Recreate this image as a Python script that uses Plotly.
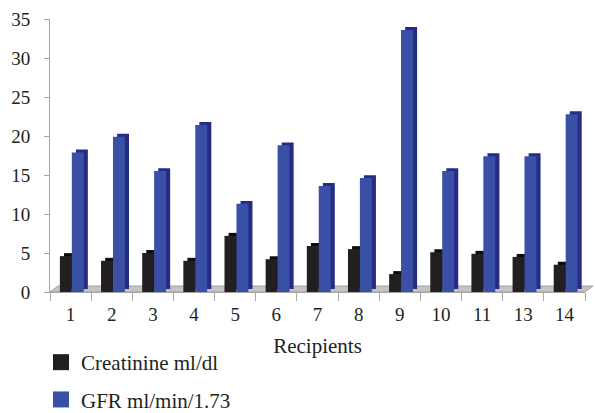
import plotly.graph_objects as go

# Recipient ids (no recipient 12) and measured values
recipients = ["1", "2", "3", "4", "5", "6", "7", "8", "9", "10", "11", "13", "14"]
creatinine = [4.6, 4.0, 5.0, 4.0, 7.2, 4.2, 5.9, 5.5, 2.3, 5.1, 4.9, 4.5, 3.5]
gfr = [17.9, 19.9, 15.5, 21.4, 11.3, 18.8, 13.6, 14.6, 33.6, 15.5, 17.4, 17.4, 22.8]

y_ticks = [0, 5, 10, 15, 20, 25, 30, 35]

FONT = "Liberation Serif"
TEXT = "#231f20"
AXIS = "#a6a6a6"

BLACK_FRONT = "#231f20"
BLACK_SIDE = "#0d0b0c"
BLUE_FRONT = "#3a50a6"
BLUE_SIDE = "#262c86"

BAR_W = 0.29      # bar width in category units
DEPTH_X = 0.10    # pseudo-3D depth, horizontal (category units)
DEPTH_Y = 0.38    # pseudo-3D depth, vertical (data units)

fig = go.Figure()


def add_series(values, offset, front, side):
    # dark back face, shifted right/up, shows as side and top of the column
    fig.add_trace(go.Bar(
        x=recipients, y=values, base=[DEPTH_Y] * len(values),
        offset=offset + DEPTH_X, width=BAR_W,
        marker=dict(color=side, line=dict(width=0)),
        showlegend=False, hoverinfo="skip",
    ))
    fig.add_trace(go.Bar(
        x=recipients, y=values,
        offset=offset, width=BAR_W,
        marker=dict(color=front, line=dict(width=0)),
        showlegend=False,
    ))


add_series(creatinine, -0.26, BLACK_FRONT, BLACK_SIDE)
add_series(gfr, 0.03, BLUE_FRONT, BLUE_SIDE)

# legend entries with large square swatches
fig.add_trace(go.Scatter(
    x=[None], y=[None], mode="markers", name="Creatinine ml/dl",
    legendgroup="c",
    marker=dict(symbol="square", size=16, color=BLACK_FRONT),
))
fig.add_trace(go.Scatter(
    x=[None], y=[None], mode="markers", name="GFR ml/min/1.73",
    legendgroup="g",
    marker=dict(symbol="square", size=16, color=BLUE_FRONT),
))

# plot area in pixels: x 50..585, y 19..292
PW, PH = 535.0, 273.0
dx, dy = 8 / PW, 6 / PH
floor = f"M 0 0 L 1 0 L {1 + dx} {dy} L {dx} {dy} Z"

fig.update_layout(
    width=595, height=413,
    autosize=False,
    margin=dict(l=50, r=10, t=19, b=121, pad=0, autoexpand=False),
    paper_bgcolor="white", plot_bgcolor="white",
    barmode="overlay",
    font=dict(family=FONT, size=19, color=TEXT),
    shapes=[dict(
        type="path", path=floor, xref="paper", yref="paper",
        fillcolor="#c4c4c4", line=dict(color="#a0a0a0", width=1),
        layer="below",
    )],
    xaxis=dict(
        type="category", categoryorder="array", categoryarray=recipients,
        range=[-0.5, len(recipients) - 0.5],
        tickson="boundaries", ticks="outside", ticklen=8, tickcolor=AXIS,
        showline=True, linecolor=AXIS, linewidth=1,
        showgrid=False, zeroline=False, automargin=False, tickangle=0,
        ticklabelstandoff=5,
        tickfont=dict(family=FONT, size=19, color=TEXT),
        title=dict(text="Recipients", font=dict(family=FONT, size=21, color=TEXT),
                   standoff=14),
    ),
    yaxis=dict(
        range=[0, 35], tickvals=y_ticks,
        ticks="outside", ticklen=5, tickcolor=AXIS,
        showline=True, linecolor=AXIS, linewidth=1,
        showgrid=False, zeroline=False, automargin=False,
        ticklabelstandoff=10,
        tickfont=dict(family=FONT, size=19, color=TEXT),
    ),
    legend=dict(
        x=(41 - 50) / PW, y=(292 - 342) / PH, xanchor="left", yanchor="top",
        orientation="v", bgcolor="rgba(0,0,0,0)",
        font=dict(family=FONT, size=21, color=TEXT),
        tracegroupgap=7, itemsizing="trace",
    ),
)

fig.write_html("out.html")
